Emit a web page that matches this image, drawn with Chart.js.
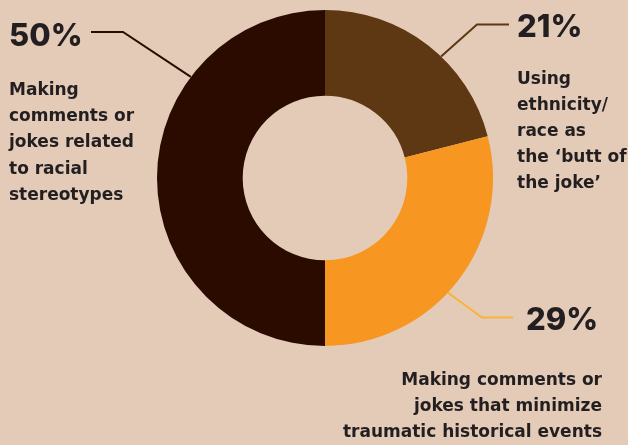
<!DOCTYPE html>
<html lang="en">
<head>
  <meta charset="UTF-8" />
  <title>Racial jokes breakdown</title>
  <script src="https://cdn.jsdelivr.net/npm/chart.js"></script>
  <style>
    body {
      margin: 0;
      background-color: #e3cbb8;
    }
    #wrap {
      width: 628px;
      height: 445px;
    }
  </style>
</head>
<body>
  <div id="wrap"><canvas id="donut" width="628" height="445"></canvas></div>

  <script>
    // slices, clockwise from 12 o'clock
    const categories = [
      'Using ethnicity/race as the ‘butt of the joke’',
      'Making comments or jokes that minimize traumatic historical events',
      'Making comments or jokes related to racial stereotypes'
    ];
    const shares = [21, 29, 50];
    const sliceColours = ['#5e3713', '#f79620', '#2b0b00'];
    const leaderColours = ['#5e3713', '#f9b43c', '#2b0b00'];

    const labelLines = [
      ['Using', 'ethnicity/', 'race as', 'the ‘butt of', 'the joke’'],
      ['Making comments or', 'jokes that minimize', 'traumatic historical events'],
      ['Making', 'comments or', 'jokes related', 'to racial', 'stereotypes']
    ];

    // callout layout: where the leader leaves the ring (deg from top), elbow, end, text spots
    const callouts = [
      { angle: 43.7, elbow: [477, 24.5], end: [509, 24.5], pct: [517, 37], text: [517, 83.5], align: 'left' },
      { angle: 133, elbow: [482, 317.5], end: [513, 317.5], pct: [526, 330], text: [602, 385], align: 'right' },
      { angle: 307, elbow: [123, 32], end: [91, 32], pct: [9, 46], text: [9, 95], align: 'left' }
    ];

    const TEXT = '#231f20';

    const calloutPlugin = {
      id: 'callouts',
      afterDraw(chart) {
        const ctx = chart.ctx;
        const arcs = chart.getDatasetMeta(0).data;
        ctx.save();
        callouts.forEach((c, i) => {
          const arc = arcs[i];
          const a = c.angle * Math.PI / 180;
          const sx = arc.x + arc.outerRadius * Math.sin(a);
          const sy = arc.y - arc.outerRadius * Math.cos(a);

          ctx.strokeStyle = leaderColours[i];
          ctx.lineWidth = 2;
          ctx.beginPath();
          ctx.moveTo(sx, sy);
          ctx.lineTo(c.elbow[0], c.elbow[1]);
          ctx.lineTo(c.end[0], c.end[1]);
          ctx.stroke();

          ctx.fillStyle = TEXT;
          ctx.textBaseline = 'alphabetic';
          ctx.textAlign = 'left';
          ctx.font = '800 31px Inter, sans-serif';
          ctx.fillText(shares[i] + '%', c.pct[0], c.pct[1]);

          ctx.font = 'bold 17px "DejaVu Sans", sans-serif';
          ctx.textAlign = c.align;
          labelLines[i].forEach((line, k) => {
            ctx.fillText(line, c.text[0], c.text[1] + k * 26.2);
          });
        });
        ctx.restore();
      }
    };

    new Chart(document.getElementById('donut'), {
      type: 'doughnut',
      data: {
        labels: categories,
        datasets: [{
          data: shares,
          backgroundColor: sliceColours,
          borderWidth: 0
        }]
      },
      options: {
        responsive: false,
        animation: false,
        cutout: '49%',
        layout: { padding: { top: 10, bottom: 99, left: 157, right: 135 } },
        plugins: {
          legend: { display: false },
          tooltip: { enabled: false }
        }
      },
      plugins: [calloutPlugin]
    });
  </script>
</body>
</html>
